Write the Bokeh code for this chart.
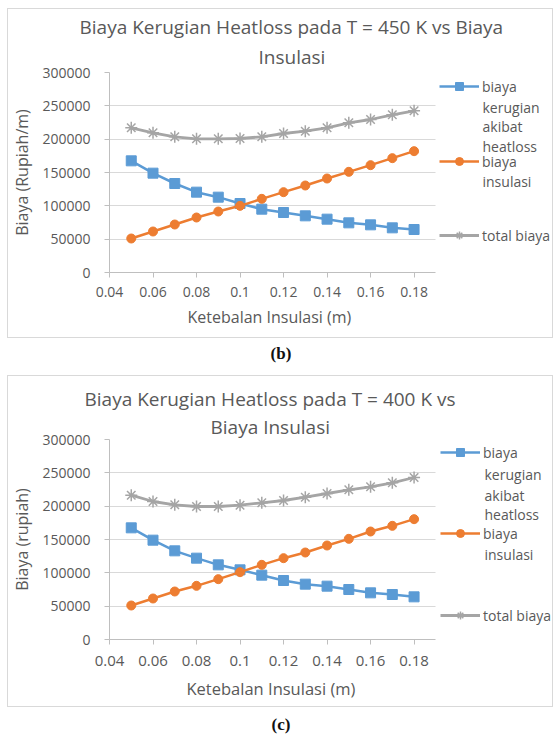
from bokeh.plotting import figure
from bokeh.models import (Range1d, FixedTicker, Legend, LegendItem, Title, Div, Label,
                          ColumnDataSource)
from bokeh.layouts import column
from bokeh.embed import file_html
from bokeh.resources import INLINE

# ---------------- data ----------------
thickness = [0.05, 0.06, 0.07, 0.08, 0.09, 0.10, 0.11, 0.12, 0.13, 0.14, 0.15, 0.16, 0.17, 0.18]

# chart (b) T = 450 K
b_heatloss = [167500, 149000, 133500, 120500, 113000, 103500, 95000, 90000, 85000, 80000, 74500, 71500, 67000, 64500]
b_insulasi = [51000, 61500, 72000, 82500, 91500, 100000, 110500, 120500, 130500, 141000, 151000, 161000, 171500, 182000]
b_total = [217000, 209500, 203500, 200500, 200500, 201000, 203500, 208500, 212000, 217000, 224500, 229500, 236500, 242500]

# chart (c) T = 400 K
c_heatloss = [167500, 149000, 133000, 122000, 112000, 104500, 96500, 88500, 83000, 80000, 75000, 70000, 67500, 64000]
c_insulasi = [51000, 61500, 72000, 80500, 90500, 101000, 112000, 122000, 130500, 141000, 151000, 162000, 170500, 180500]
c_total = [216500, 207000, 202000, 199500, 199500, 201500, 205000, 208500, 213500, 219000, 224500, 229000, 235000, 243000]

x_ticks = [0.04, 0.06, 0.08, 0.10, 0.12, 0.14, 0.16, 0.18]
x_tick_labels = ["0.04", "0.06", "0.08", "0.1", "0.12", "0.14", "0.16", "0.18"]
x_axis_end = 0.19
y_ticks = [0, 50000, 100000, 150000, 200000, 250000, 300000]
y_tick_labels = ["0", "50000", "100000", "150000", "200000", "250000", "300000"]

x_title = "Ketebalan Insulasi (m)"
# legend texts, wrapped as in the reference
series_lines = [["biaya", "kerugian", "akibat", "heatloss"], ["biaya", "insulasi"], ["total biaya"]]

FONT = "Open Sans"
TXT = "#595959"
BLUE = "#5B9BD5"
ORANGE = "#ED7D31"
GRAY = "#A5A5A5"
GRID = "#D9D9D9"

CANVAS_W = 546
LEFT = 96
PLOT_W = 330  # pixels of the plot area (0.04 .. 0.19)
FRAME_W = CANVAS_W - LEFT
X_END = 0.04 + (x_axis_end - 0.04) * FRAME_W / PLOT_W


def make_chart(title1, title2, t_off, t_stand, ylabel, heat, insu, total, height, top,
               bottom, leg_x, leg_y, line_x, line_y, xtick_fs, xtick_standoff,
               xt_fs, xt_off, xt_standoff):
    p = figure(width=CANVAS_W, height=height, output_backend="svg", toolbar_location=None,
               x_range=Range1d(0.04, X_END), y_range=Range1d(0, 300000),
               min_border_left=LEFT, min_border_right=0, min_border_top=top,
               min_border_bottom=bottom, tools="",
               styles={"border": "1px solid #D9D9D9"})
    p.outline_line_color = None
    p.background_fill_color = "white"
    p.border_fill_color = "white"

    t2 = Title(text=title2, align="left", text_font=FONT, text_font_size="19px",
               text_font_style="normal", text_color=TXT, offset=t_off[1], standoff=t_stand[1])
    t1 = Title(text=title1, align="left", text_font=FONT, text_font_size="19px",
               text_font_style="normal", text_color=TXT, offset=t_off[0], standoff=t_stand[0])
    p.add_layout(t2, "above")
    p.add_layout(t1, "above")

    p.xaxis.ticker = FixedTicker(ticks=x_ticks)
    p.xaxis.major_label_overrides = dict(zip(x_ticks, x_tick_labels))
    p.xaxis.bounds = (0.04, x_axis_end)
    p.yaxis.ticker = FixedTicker(ticks=y_ticks)
    p.yaxis.major_label_overrides = dict(zip(y_ticks, y_tick_labels))
    for ax in (p.xaxis[0], p.yaxis[0]):
        ax.axis_line_color = "#BFBFBF"
        ax.major_tick_line_color = "#BFBFBF"
        ax.major_tick_out = 5
        ax.major_tick_in = 0
        ax.minor_tick_line_color = None
        ax.major_label_text_font = FONT
        ax.major_label_text_font_size = "14px"
        ax.major_label_text_color = TXT
        ax.axis_label_text_font = FONT
        ax.axis_label_text_font_size = "16px"
        ax.axis_label_text_font_style = "normal"
        ax.axis_label_text_color = TXT
    p.xaxis.major_label_text_font_size = xtick_fs
    p.xaxis.major_label_standoff = xtick_standoff
    p.yaxis.axis_label = ylabel
    p.yaxis.major_label_standoff = 14
    p.yaxis.axis_label_standoff = 6
    # x axis title, centred on the plot area (0.04 .. 0.19)
    p.add_layout(Title(text=x_title, align="left", text_font=FONT, text_font_size=xt_fs,
                       text_font_style="normal", text_color=TXT, offset=xt_off,
                       standoff=xt_standoff), "below")
    p.xgrid.grid_line_color = None
    p.ygrid.grid_line_color = GRID
    p.ygrid.grid_line_width = 1
    p.ygrid.cross_bounds = (0.04, x_axis_end)

    src = ColumnDataSource(dict(x=thickness, heat=heat, insu=insu, total=total))
    l1 = p.line("x", "heat", source=src, line_color=BLUE, line_width=2.5)
    s1 = p.scatter("x", "heat", source=src, marker="square", size=10, fill_color=BLUE,
                   line_color=BLUE)
    l2 = p.line("x", "insu", source=src, line_color=ORANGE, line_width=2.5)
    s2 = p.scatter("x", "insu", source=src, marker="circle", size=9, fill_color=ORANGE,
                   line_color=ORANGE)
    l3 = p.line("x", "total", source=src, line_color=GRAY, line_width=2.8)
    s3 = p.scatter("x", "total", source=src, marker="asterisk", size=12, line_color=GRAY,
                   line_width=1.5)

    rends = [[l1, s1], [l2, s2], [l3, s3]]
    for i in range(3):
        lg = Legend(items=[LegendItem(label=series_lines[i][0], renderers=rends[i])],
                    location=(leg_x, leg_y[i]), border_line_color=None,
                    background_fill_alpha=0, label_text_font=FONT,
                    label_text_font_size="14px", label_text_color=TXT,
                    glyph_width=40, glyph_height=20, label_height=20,
                    label_standoff=3, padding=0, margin=0, spacing=0)
        p.add_layout(lg, "center")
        for j, txt in enumerate(series_lines[i][1:]):
            p.add_layout(Label(x=line_x, y=line_y[i][j], x_units="screen", y_units="screen",
                               text=txt, text_font=FONT, text_font_size="14px",
                               text_color=TXT, text_baseline="middle", text_align="left"))
    return p


p1 = make_chart("Biaya Kerugian Heatloss pada T = 450 K vs Biaya", "Insulasi",
                (-30, 149), (0, 5), "Biaya (Rupiah/m)", b_heatloss, b_insulasi, b_total,
                330, 63, 67, 330, [176, 101, 27], 373, [[165, 146, 126], [91], []],
                "14px", 9, "16px", 78, 8)
p2 = make_chart("Biaya Kerugian Heatloss pada T = 400 K vs", "Biaya Insulasi",
                (-25, 101), (0, 0), "Biaya (rupiah)", c_heatloss, c_insulasi, c_total,
                332, 63, 69, 331, [177, 96, 14], 375, [[165, 144, 125], [85], []],
                "15px", 11, "16.5px", 77, 12)

lab_style = {"text-align": "center", "font-family": "Liberation Serif",
             "font-weight": "bold", "font-size": "17px", "color": "#111111",
             "padding-top": "4px"}
lab_style2 = dict(lab_style, **{"padding-top": "6px"})
d1 = Div(text="(b)", width=548, height=37, margin=(0, 0, 0, 0), styles=lab_style)
d2 = Div(text="(c)", width=548, height=26, margin=(0, 0, 0, 0), styles=lab_style2)

layout = column(p1, d1, p2, d2, spacing=0, margin=(8, 0, 0, 7))

open("out.html", "w").write(file_html(layout, INLINE))
